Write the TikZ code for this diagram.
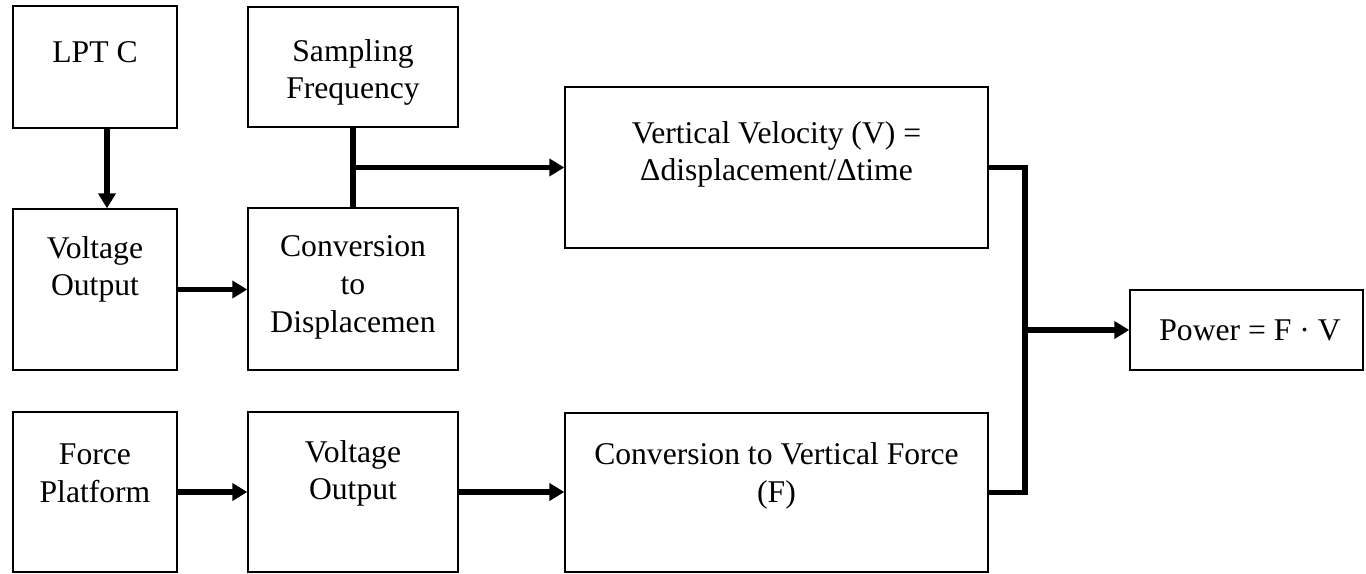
\documentclass[tikz,border=0pt]{standalone}
\usepackage{fontspec}
\setmainfont{Liberation Serif}
\usetikzlibrary{arrows.meta}
\begin{document}
\begin{tikzpicture}[x=0.02cm,y=-0.02cm,
  blk/.style={draw, line width=0.8pt, inner sep=0pt, fill=white},
  txt/.style={align=center, inner sep=0pt, font=\fontsize{18}{21.5}\selectfont},
  conn/.style={line width=3pt},
  arr/.style={line width=3pt, -{Triangle[length=0.3cm,width=0.34cm]}}]
\useasboundingbox (0,0) rectangle (1366,574);
% boxes
\node[blk, minimum width=3.28cm, minimum height=2.44cm] (LPT) at (95,67) {};
\node[blk, minimum width=4.2cm, minimum height=2.4cm] (Samp) at (353,67) {};
\node[blk, minimum width=3.28cm, minimum height=3.22cm] (VoltT) at (95,289.5) {};
\node[blk, minimum width=4.2cm, minimum height=3.24cm] (Conv) at (353,289) {};
\node[blk, minimum width=8.46cm, minimum height=3.22cm] (Vel) at (776.5,167.5) {};
\node[blk, minimum width=4.66cm, minimum height=1.6cm] (Power) at (1246.5,330) {};
\node[blk, minimum width=3.28cm, minimum height=3.2cm] (ForceP) at (95,492) {};
\node[blk, minimum width=4.2cm, minimum height=3.2cm] (VoltB) at (353,492) {};
\node[blk, minimum width=8.46cm, minimum height=3.18cm] (ForceC) at (776.5,492.5) {};
% texts
\node[txt] (tLPT) at (95,52) {LPT C};
\node[txt] (tSamp) at (353,72.5) {Sampling\\Frequency};
\node[txt] (tVoltT) at (95,269.5) {Voltage\\Output};
\node[txt] (tConv) at (353,287.5) {Conversion\\to\\Displacemen};
\node[txt] (tVel) at (776.5,154.5) {Vertical Velocity (V) =\\Δdisplacement/Δtime};
\node[txt] (tPower) at (1250,330) {Power = F · V};
\node[txt] (tForceP) at (95,473.5) {Force\\Platform};
\node[txt] (tVoltB) at (353,473.5) {Voltage\\Output};
\node[txt] (tForceC) at (776.5,476) {Conversion to Vertical Force\\(F)};
% connectors
\draw[arr] ([xshift=0.24cm]LPT.south) -- ([xshift=0.24cm]VoltT.north);
\draw[arr] (VoltT.east) -- (VoltT.east -| Conv.west);
\draw[conn] (Samp.south) -- (Conv.north);
\coordinate (br) at (Samp.south |- Vel.west);
\draw[arr] (br) -- (Vel.west);
\draw[arr] (ForceP.east) -- (ForceP.east -| VoltB.west);
\draw[arr] (VoltB.east) -- (VoltB.east -| ForceC.west);
\coordinate (jtop) at (1025,167.5);
\coordinate (jbot) at (1025,492.5);
\draw[conn] (Vel.east) -- (jtop) -- (jbot) -- (ForceC.east);
\draw[arr] (jtop |- Power.west) -- (Power.west);
\end{tikzpicture}
\end{document}
